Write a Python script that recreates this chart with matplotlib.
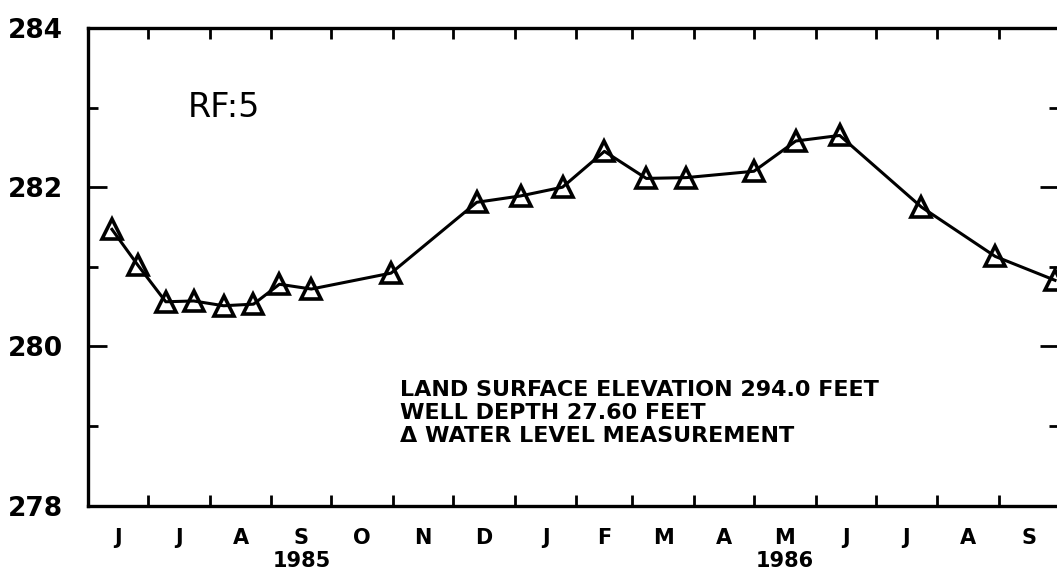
import numpy as np
import pandas as pd
import matplotlib
matplotlib.use("Agg")
import matplotlib.pyplot as plt
import matplotlib.dates as mdates
from matplotlib.ticker import NullFormatter


# water level readings, well RF:5
dates = ["1985-06-13", "1985-06-26", "1985-07-10", "1985-07-24", "1985-08-08",
         "1985-08-23", "1985-09-05", "1985-09-21", "1985-10-31", "1985-12-13",
         "1986-01-04", "1986-01-25", "1986-02-15", "1986-03-08", "1986-03-28",
         "1986-05-01", "1986-05-22", "1986-06-13", "1986-07-24", "1986-08-30",
         "1986-09-29"]
levels = [281.47, 281.02, 280.56, 280.57, 280.51, 280.53, 280.78, 280.72, 280.92,
          281.81, 281.89, 282.00, 282.45, 282.11, 282.12, 282.20, 282.58, 282.65,
          281.75, 281.13, 280.83]

month_labels = ["J", "J", "A", "S", "O", "N", "D", "J", "F", "M", "A", "M", "J", "J", "A", "S"]
year_labels = ["1985", "1986"]
year_months = ["1985-09", "1986-05"]

y_major = [278, 280, 282, 284]
y_minor = [279, 281, 283]

well_name = "RF:5"
info_lines = ["LAND SURFACE ELEVATION 294.0 FEET",
              "WELL DEPTH 27.60 FEET",
              "\u0394 WATER LEVEL MEASUREMENT"]


W, H = 1057, 576
fig = plt.figure(figsize=(W / 100, H / 100), dpi=100)
ax = fig.add_axes([88 / W, 1 - 505.5 / H, 971 / W, 477.5 / H])

t = mdates.date2num(pd.to_datetime(dates).to_pydatetime())
ax.plot(t, levels, color="black", lw=2.2, marker="^", ms=14,
        mfc="none", mec="black", mew=2.6)

# month boundaries and mid-month label positions
starts = mdates.date2num(pd.date_range("1985-06-01", "1986-10-01", freq="MS").to_pydatetime())
mids = (starts[:-1] + starts[1:]) / 2

ax.set_xlim(starts[0], starts[-1])
ax.set_xticks(starts[1:-1])
ax.xaxis.set_major_formatter(NullFormatter())
ax.set_xticks(mids, minor=True)
ax.set_xticklabels(month_labels, minor=True, fontsize=15, fontweight="bold")
ax.tick_params(axis="x", which="major", direction="in", length=8, width=2, top=True)
ax.tick_params(axis="x", which="minor", length=0, pad=16, top=False)

for yr, ym in zip(year_labels, year_months):
    st = pd.Timestamp(ym + "-01")
    x0 = mdates.date2num(st.to_pydatetime())
    x1 = mdates.date2num((st + pd.offsets.MonthBegin(1)).to_pydatetime())
    ax.annotate(yr, xy=((x0 + x1) / 2, 0), xycoords=ax.get_xaxis_transform(),
                xytext=(0, -33), textcoords="offset points",
                ha="center", va="top", fontsize=15, fontweight="bold")

ax.set_ylim(y_major[0], y_major[-1])
ax.set_yticks(y_major)
ax.set_yticklabels([str(v) for v in y_major], fontsize=19, fontweight="bold")
ax.set_yticks(y_minor, minor=True)
ax.tick_params(axis="y", which="major", direction="in", length=14, width=2,
               right=True, pad=18)
ax.tick_params(axis="y", which="minor", direction="in", length=7, width=2,
               right=True)

for s in ax.spines.values():
    s.set_linewidth(2.4)

ax.text(0.103, 0.8325, well_name, transform=ax.transAxes, fontsize=24,
        ha="left", va="center")
ax.text(0.321, 0.263, "\n".join(info_lines), transform=ax.transAxes,
        fontsize=16, fontweight="bold", ha="left", va="top", linespacing=1.2)

plt.savefig("out.png", dpi=100)
